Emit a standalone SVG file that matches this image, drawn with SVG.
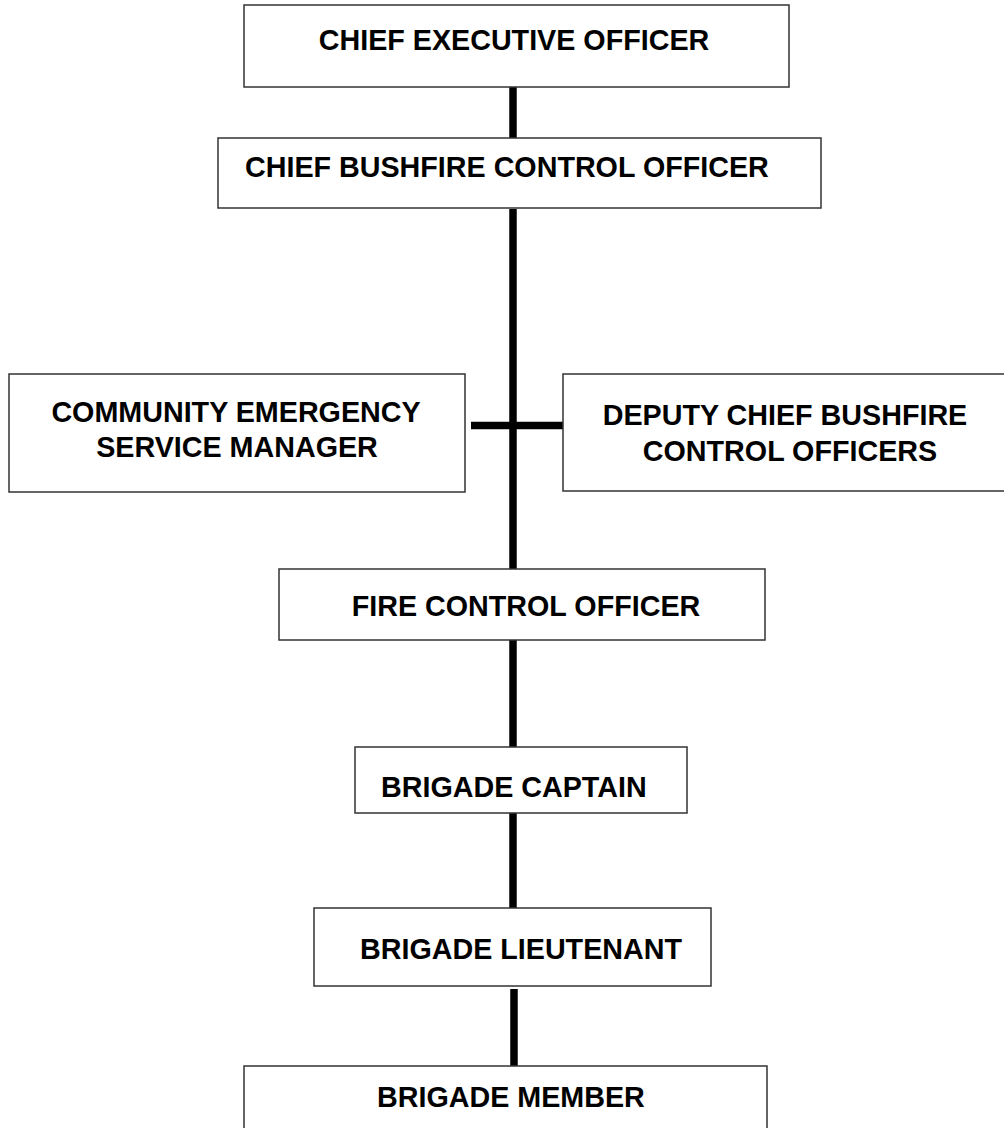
<svg xmlns="http://www.w3.org/2000/svg" width="1004" height="1128" viewBox="0 0 1004 1128">
<style>
.box{fill:#fff;stroke:#333;stroke-width:1.5}
.t{font-family:"Liberation Sans",Arial,sans-serif;font-weight:bold;font-size:28.7px;fill:#000}
.m{text-anchor:middle}
.c{stroke:#000;stroke-width:7.5;fill:none}
</style>
<rect width="1004" height="1128" fill="#fff"/>
<g id="connectors">
<line class="c" x1="513" y1="87" x2="513" y2="138"/>
<line class="c" x1="513" y1="209" x2="513" y2="569"/>
<line class="c" x1="471" y1="425.5" x2="563" y2="425.5"/>
<line class="c" x1="513" y1="640" x2="513" y2="747"/>
<line class="c" x1="513" y1="813" x2="513" y2="908"/>
<line class="c" x1="514" y1="989" x2="514" y2="1066"/>
</g>
<g id="ceo">
<rect class="box" x="244" y="5" width="545" height="82"/>
<text class="t m" x="514" y="50">CHIEF EXECUTIVE OFFICER</text>
</g>
<g id="cbco">
<rect class="box" x="218" y="138" width="603" height="70"/>
<text class="t" x="245" y="177">CHIEF BUSHFIRE CONTROL OFFICER</text>
</g>
<g id="cesm">
<rect class="box" x="9" y="374" width="456" height="118"/>
<text class="t m" x="236" y="422">COMMUNITY EMERGENCY</text>
<text class="t m" x="237" y="457">SERVICE MANAGER</text>
</g>
<g id="dcbco">
<rect class="box" x="563" y="374" width="460" height="117"/>
<text class="t m" x="785" y="425">DEPUTY CHIEF BUSHFIRE</text>
<text class="t m" x="790" y="461">CONTROL OFFICERS</text>
</g>
<g id="fco">
<rect class="box" x="279" y="569" width="486" height="71"/>
<text class="t m" x="526" y="616">FIRE CONTROL OFFICER</text>
</g>
<g id="captain">
<rect class="box" x="355" y="747" width="332" height="66"/>
<text class="t" x="381" y="797">BRIGADE CAPTAIN</text>
</g>
<g id="lieutenant">
<rect class="box" x="314" y="908" width="397" height="78"/>
<text class="t" x="360" y="959">BRIGADE LIEUTENANT</text>
</g>
<g id="member">
<rect class="box" x="244" y="1066" width="523" height="80"/>
<text class="t" x="377" y="1107">BRIGADE MEMBER</text>
</g>
</svg>
